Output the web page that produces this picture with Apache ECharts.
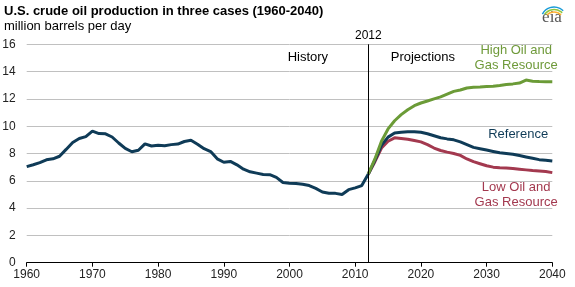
<!DOCTYPE html>
<html>
<head>
<meta charset="utf-8">
<script src="https://cdn.jsdelivr.net/npm/echarts@6/dist/echarts.min.js"></script>
<style>
  html, body { margin: 0; padding: 0; background: #fff; }
  #chart { width: 575px; height: 287px; }
</style>
</head>
<body>
<div id="chart"></div>
<script>
// 历史数据 1960-2012
var histYears = [];
for (var y = 1960; y <= 2012; y++) histYears.push(y);
var histValues = [7.04, 7.18, 7.33, 7.54, 7.61, 7.80, 8.30, 8.81, 9.10, 9.24,
  9.64, 9.46, 9.44, 9.21, 8.77, 8.37, 8.13, 8.24, 8.71, 8.55,
  8.60, 8.57, 8.65, 8.69, 8.88, 8.97, 8.68, 8.35, 8.14, 7.61,
  7.36, 7.42, 7.17, 6.85, 6.66, 6.56, 6.46, 6.45, 6.25, 5.88,
  5.82, 5.80, 5.74, 5.65, 5.44, 5.18, 5.09, 5.08, 5.00, 5.35,
  5.48, 5.65, 6.50];

// 预测数据 2012-2040
var projYears = [];
for (var p = 2012; p <= 2040; p++) projYears.push(p);
var refValues = [6.5, 7.5, 8.6, 9.2, 9.5, 9.55, 9.6, 9.6, 9.55, 9.45,
  9.3, 9.15, 9.07, 9.0, 8.85, 8.65, 8.45, 8.35, 8.25, 8.15,
  8.05, 8.0, 7.95, 7.85, 7.75, 7.65, 7.55, 7.5, 7.45];
var highValues = [6.5, 7.6, 8.9, 9.8, 10.4, 10.85, 11.2, 11.5, 11.7, 11.85,
  12.0, 12.15, 12.35, 12.55, 12.65, 12.8, 12.85, 12.87, 12.9, 12.92,
  12.98, 13.05, 13.1, 13.16, 13.38, 13.3, 13.27, 13.26, 13.25];
var lowValues = [6.5, 7.4, 8.4, 8.9, 9.15, 9.1, 9.05, 8.95, 8.85, 8.65,
  8.4, 8.22, 8.1, 8.0, 7.86, 7.6, 7.4, 7.25, 7.1, 7.0,
  6.95, 6.93, 6.9, 6.85, 6.8, 6.75, 6.72, 6.68, 6.6];

var splitYear = 2012;

// 颜色
var navy = '#0f3b57';
var green = '#6b9b37';
var red = '#a3394f';

function pairs(xs, vs) {
  return xs.map(function (x, i) { return [x, vs[i]]; });
}

var chart = echarts.init(document.getElementById('chart'));
var font = 'Liberation Sans, Arial, sans-serif';

var option = {
  animation: false,
  textStyle: { fontFamily: font },
  grid: { left: 26.7, right: 22.7, top: 44.3, bottom: 24.3, containLabel: false, outerBoundsMode: 'none' },
  xAxis: {
    type: 'value', min: 1960, max: 2040, interval: 10,
    axisLine: { lineStyle: { color: '#000', width: 1 } },
    axisTick: { show: true, length: 4, lineStyle: { color: '#000' } },
    axisLabel: {
      color: '#222', fontSize: 12, margin: 6, fontFamily: font,
      formatter: function (v) { return String(v); }
    },
    splitLine: { show: false }
  },
  yAxis: {
    type: 'value', min: 0, max: 16, interval: 2,
    axisLine: { show: false },
    axisTick: { show: false },
    axisLabel: { color: '#222', fontSize: 12, margin: 11, fontFamily: font },
    splitLine: { lineStyle: { color: '#c0c0c0', width: 1 } }
  },
  series: [
    {
      type: 'line', name: 'History', data: pairs(histYears, histValues),
      showSymbol: false, lineStyle: { color: navy, width: 3 }, z: 3,
      markLine: {
        silent: true, symbol: 'none',
        lineStyle: { color: '#000', width: 1, type: 'solid' },
        label: { show: true, position: 'end', formatter: '2012', color: '#000', fontSize: 12, distance: 3, fontFamily: font },
        data: [{ xAxis: splitYear }]
      }
    },
    {
      type: 'line', name: 'Low Oil and Gas Resource', data: pairs(projYears, lowValues),
      showSymbol: false, lineStyle: { color: red, width: 3 }, z: 2
    },
    {
      type: 'line', name: 'Reference', data: pairs(projYears, refValues),
      showSymbol: false, lineStyle: { color: navy, width: 3 }, z: 3
    },
    {
      type: 'line', name: 'High Oil and Gas Resource', data: pairs(projYears, highValues),
      showSymbol: false, lineStyle: { color: green, width: 3 }, z: 4
    }
  ]
};

chart.setOption(option);

// 文字注释位置
var notes = [
  { text: 'History', at: [2002.8, 15.05], color: '#000' },
  { text: 'Projections', at: [2020.3, 15.05], color: '#000' },
  { text: 'High Oil and\nGas Resource', at: [2034.5, 15.0], color: '#6f9a3a' },
  { text: 'Reference', at: [2034.8, 9.4], color: navy },
  { text: 'Low Oil and\nGas Resource', at: [2034.5, 5.0], color: red }
];

var graphics = [
  { type: 'text', left: 4, top: 5, style: { text: 'U.S. crude oil production in three cases (1960-2040)', font: 'bold 13px ' + font, fill: '#000' } },
  { type: 'text', left: 4, top: 20, style: { text: 'million barrels per day', font: '13px ' + font, fill: '#000' } },
  { type: 'text', x: 552, y: 18, style: { text: 'eia', font: '17px Liberation Serif, serif', fill: '#555', align: 'center', verticalAlign: 'middle' } },
  { type: 'arc', shape: { cx: 554, cy: 20, r: 13, startAngle: Math.PI * 1.15, endAngle: Math.PI * 1.75 }, style: { stroke: '#1a9bd7', lineWidth: 1.5, fill: null } },
  { type: 'arc', shape: { cx: 554, cy: 21, r: 11.5, startAngle: Math.PI * 1.2, endAngle: Math.PI * 1.75 }, style: { stroke: '#8cc63e', lineWidth: 1.5, fill: null } },
  { type: 'arc', shape: { cx: 554, cy: 22, r: 10, startAngle: Math.PI * 1.25, endAngle: Math.PI * 1.75 }, style: { stroke: '#fbb034', lineWidth: 1.5, fill: null } }
];

notes.forEach(function (n) {
  var pt = chart.convertToPixel({ gridIndex: 0 }, n.at);
  graphics.push({
    type: 'text', x: pt[0], y: pt[1],
    style: { text: n.text, font: '13px ' + font, fill: n.color, align: 'center', verticalAlign: 'middle', lineHeight: 15 }
  });
});

chart.setOption({ graphic: graphics });
</script>
</body>
</html>
